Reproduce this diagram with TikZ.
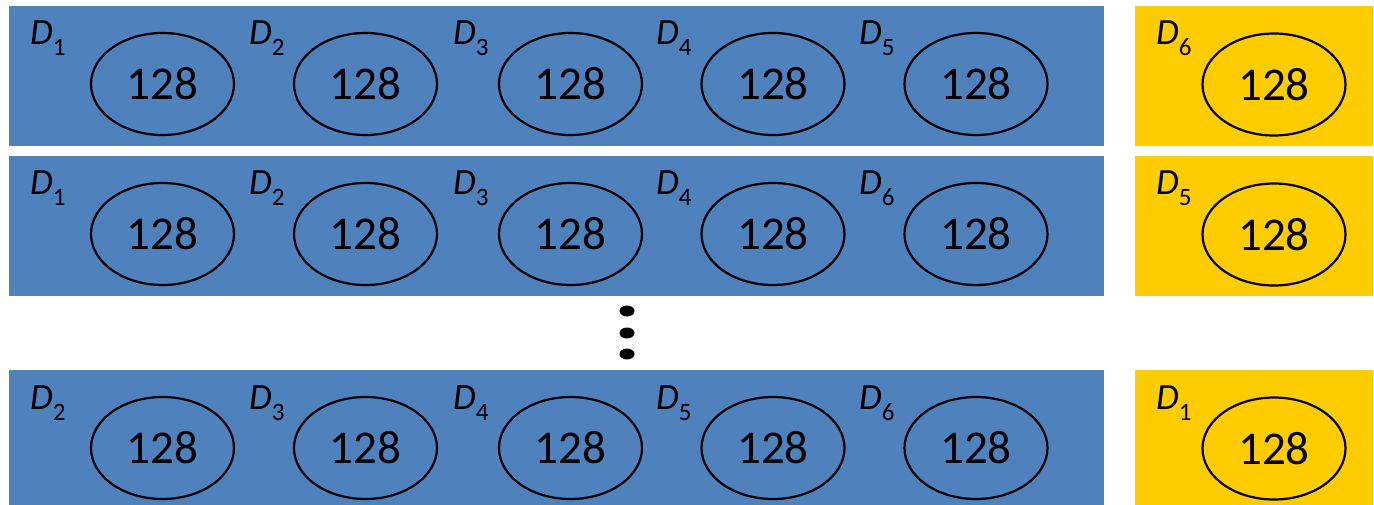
\documentclass[tikz,border=0pt]{standalone}
\usepackage{fontspec}
\setmainfont{Carlito}
\usetikzlibrary{shapes.geometric}
\definecolor{barblue}{HTML}{4F81BD}
\definecolor{baryellow}{HTML}{FFCC00}
\newcommand\dsub[1]{{\fontsize{37}{37}\selectfont\itshape D}\raisebox{-11pt}{\fontsize{25}{25}\selectfont #1}}
\begin{document}
\begin{tikzpicture}[x=1pt,y=-1pt,
  cell/.style={ellipse, draw=black, line width=2.2pt, minimum width=143pt, minimum height=102pt, inner sep=0pt, font=\fontsize{47}{47}\selectfont},
  dlabel/.style={anchor=base west, inner sep=0pt},
  bluebar/.style={fill=barblue, draw=none},
  goldbox/.style={fill=baryellow, draw=none},
  dotmark/.style={ellipse, fill=black, minimum width=15pt, minimum height=11pt, inner sep=0pt}]
\useasboundingbox (0,0) rectangle (1374,505);
\clip (0,0) rectangle (1374,505);
% row 1
\path[bluebar] (9,6) rectangle (1104,146);
\path[goldbox] (1135,6) rectangle (1373,146);
\foreach \ex/\lx/\s [count=\i] in {162.5/30/1, 365.5/249/2, 570.5/453/3, 773/656/4, 976/859/5} {
  \node[cell] (ra\i) at (\ex,84) {128};
  \node[dlabel] (la\i) at (\lx,45) {\dsub{\s}};
}
\node[cell] (ya) at (1274,84.5) {128};
\node[dlabel] (yla) at (1156,45) {\dsub{6}};
% row 2
\path[bluebar] (9,156) rectangle (1104,296);
\path[goldbox] (1135,156) rectangle (1373,296);
\foreach \ex/\lx/\s [count=\i] in {162.5/30/1, 365.5/249/2, 570.5/453/3, 773/656/4, 976/859/6} {
  \node[cell] (rb\i) at (\ex,234) {128};
  \node[dlabel] (lb\i) at (\lx,195) {\dsub{\s}};
}
\node[cell] (yb) at (1274,234.5) {128};
\node[dlabel] (ylb) at (1156,195) {\dsub{5}};
% dots
\node[dotmark] (dot1) at (627,311) {};
\node[dotmark] (dot2) at (627,333) {};
\node[dotmark] (dot3) at (627,354) {};
% row 3
\path[bluebar] (9,370) rectangle (1104,510);
\path[goldbox] (1135,370) rectangle (1373,510);
\foreach \ex/\lx/\s [count=\i] in {162.5/30/2, 365.5/249/3, 570.5/453/4, 773/656/5, 976/859/6} {
  \node[cell] (rc\i) at (\ex,448) {128};
  \node[dlabel] (lc\i) at (\lx,409) {\dsub{\s}};
}
\node[cell] (yc) at (1274,448.5) {128};
\node[dlabel] (ylc) at (1156,409) {\dsub{1}};
\end{tikzpicture}
\end{document}
